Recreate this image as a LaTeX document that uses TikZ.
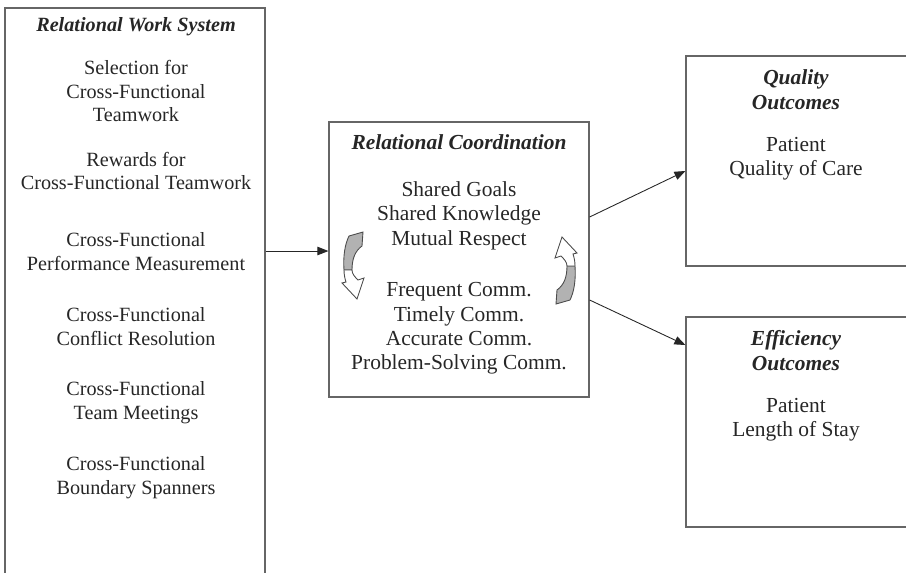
\documentclass[tikz,border=0pt]{standalone}
\usepackage{fontspec}
\setmainfont{Liberation Serif}
\usetikzlibrary{arrows.meta,positioning,calc}

\begin{document}
\begin{tikzpicture}[x=0.02cm,y=-0.02cm,
  panel/.style={draw=black!60,line width=0.7pt,minimum width=5.2cm,inner sep=0pt},
  lbl/.style={align=center,text=black!85,font=\fontsize{12.2}{13.9}\selectfont,inner sep=0pt},
  ttl/.style={lbl,font=\fontsize{12.2}{13.9}\selectfont\bfseries\itshape},
  sml/.style={lbl,font=\fontsize{11.5}{13.6}\selectfont},
  smlttl/.style={lbl,font=\fontsize{11.5}{13.6}\selectfont\bfseries\itshape},
  link/.style={draw=black!85,line width=0.5pt,-{Triangle[length=0.22cm,width=0.17cm]}},
  cyc/.pic={\filldraw[fill=black!30,draw=black!70,line width=0.5pt] (-5,-30) -- (9,-34) -- (8,-20) .. controls (1,-15) and (-2,-7) .. (-2,4) -- (-10,4) .. controls (-11,-10) and (-9,-22) .. cycle;
    \filldraw[fill=white,draw=black!70,line width=0.5pt] (-10,4) .. controls (-10,9) and (-9,13) .. (-8,16) -- (-12,17) -- (3,33) -- (10,12) -- (4,14) .. controls (1,11) and (-2,8) .. (-2,4) -- cycle;}]
\useasboundingbox (0,0) rectangle (906,572);\clip (0,0) rectangle (906,572);
% boxes
\node[panel,minimum height=11.84cm] (rws) at (135,304) {};
\node[panel,minimum height=5.5cm] (rc) at (459,259.5) {};
\node[panel,minimum width=4.88cm,minimum height=4.2cm] (qo) at (808,161) {};
\node[panel,minimum width=4.88cm,minimum height=4.2cm] (eo) at (808,422) {};
% work system
\node[smlttl] (rwsT) at (136,27) {Relational Work System};
\node[sml] (sel) at (136,91) {Selection for\\Cross-Functional\\Teamwork};
\node[sml] (rew) at (136,171) {Rewards for\\Cross-Functional Teamwork};
\node[sml] (perf) at (136,251.5) {Cross-Functional\\Performance Measurement};
\node[sml] (conf) at (136,326.5) {Cross-Functional\\Conflict Resolution};
\node[sml] (meet) at (136,403) {Cross-Functional\\Team Meetings};
\node[sml] (span) at (136,478) {Cross-Functional\\Boundary Spanners};
% coordination
\node[ttl] (rcT) at (459,142) {Relational Coordination};
\node[lbl] (rel) at (459,215.5) {Shared Goals\\Shared Knowledge\\Mutual Respect};
\node[lbl] (comm) at (459,328.5) {Frequent Comm.\\Timely Comm.\\Accurate Comm.\\Problem-Solving Comm.};
\pic at (354,266) {cyc};\pic[rotate=180] at (565,270) {cyc};
% outcomes
\node[ttl] (qoT) at (796,89.5) {Quality\\Outcomes};
\node[lbl] (qoB) at (796,158.5) {Patient\\Quality of Care};
\node[ttl] (eoT) at (796,350.5) {Efficiency\\Outcomes};
\node[lbl] (eoB) at (796,419.5) {Patient\\Length of Stay};
% links
\path ([yshift=0.17cm]rc.west) coordinate (rcin);
\draw[link] (rcin -| rws.east) -- (rcin);
\draw[link] ([yshift=0.85cm]rc.east) -- ([yshift=-0.2cm]qo.west);
\draw[link] ([yshift=-0.81cm]rc.east) -- ([yshift=1.54cm]eo.west);
\end{tikzpicture}
\end{document}
